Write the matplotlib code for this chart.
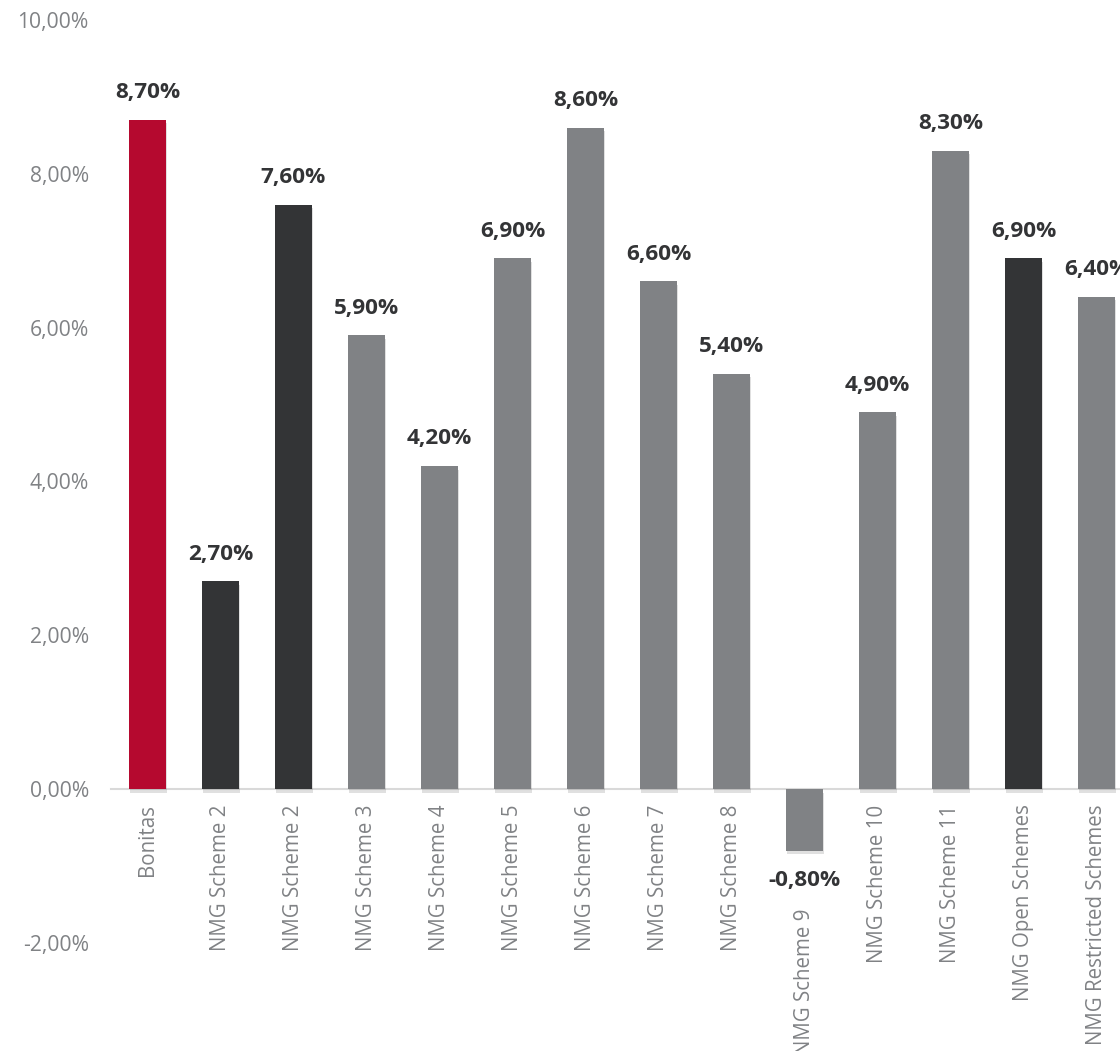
import matplotlib
matplotlib.use("Agg")
import matplotlib.pyplot as plt
import matplotlib.patheffects as pe
from matplotlib.ticker import FixedLocator

categories = ["Bonitas", "NMG Scheme 2", "NMG Scheme 2", "NMG Scheme 3", "NMG Scheme 4",
              "NMG Scheme 5", "NMG Scheme 6", "NMG Scheme 7", "NMG Scheme 8", "NMG Scheme 9",
              "NMG Scheme 10", "NMG Scheme 11", "NMG Open Schemes", "NMG Restricted Schemes"]
values = [8.7, 2.7, 7.6, 5.9, 4.2, 6.9, 8.6, 6.6, 5.4, -0.8, 4.9, 8.3, 6.9, 6.4]
groups = ["bonitas", "dark", "dark", "grey", "grey", "grey", "grey", "grey", "grey", "grey",
          "grey", "grey", "dark", "grey"]
yticks = [-2, 0, 2, 4, 6, 8, 10]

palette = {"bonitas": "#B5092F", "dark": "#333436", "grey": "#808285"}

plt.rcParams['font.family'] = ['Open Sans', 'DejaVu Sans']

fig = plt.figure(figsize=(11.2, 10.51), dpi=100)
ax = fig.add_axes([0.0991, 0.1028, 0.9125, 0.8782])

x = list(range(len(categories)))
colors = [palette[g] for g in groups]
bars = ax.bar(x, values, width=0.51, color=colors, zorder=3)
for b in bars:
    b.set_path_effects([pe.SimplePatchShadow(offset=(0.8, -2.5), shadow_rgbFace='black', alpha=0.12),
                        pe.Normal()])

ax.set_xlim(-0.5, len(categories) - 0.5)
ax.set_ylim(-2, 10)
ax.yaxis.set_major_locator(FixedLocator(yticks))
ax.set_yticklabels([f"{t:.2f}%".replace(".", ",") for t in yticks])
ax.tick_params(axis='y', length=0, pad=16, labelsize=15.2, labelcolor="#808285")
ax.set_xticks([])

for s in ["top", "right", "left"]:
    ax.spines[s].set_visible(False)
ax.spines["bottom"].set_position(("data", 0))
ax.spines["bottom"].set_color("#D9D9D9")
ax.spines["bottom"].set_linewidth(1.5)
ax.spines["bottom"].set_zorder(2)

for i, v in enumerate(values):
    lbl = f"{v:.2f}%".replace(".", ",")
    if v >= 0:
        ax.annotate(lbl, xy=(i, v), xytext=(0, 12), textcoords="offset points",
                    ha="center", va="bottom", fontsize=16.2, fontweight="bold", color="#333436")
        ax.annotate(categories[i], xy=(i, 0), xytext=(0, -11), textcoords="offset points",
                    ha="center", va="top", rotation=90, fontsize=14.8, color="#808285",
                    annotation_clip=False)
    else:
        ax.annotate(lbl, xy=(i, v), xytext=(0, -14), textcoords="offset points",
                    ha="center", va="top", fontsize=16.2, fontweight="bold", color="#333436")
        ax.annotate(categories[i], xy=(i, v), xytext=(0, -42), textcoords="offset points",
                    ha="center", va="top", rotation=90, fontsize=14.8, color="#808285",
                    annotation_clip=False)

fig.savefig("out.png", dpi=100, facecolor="white")
